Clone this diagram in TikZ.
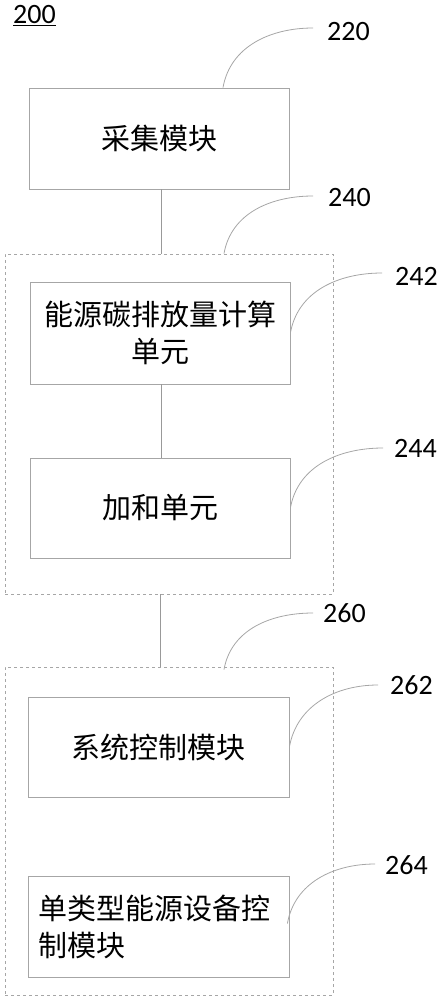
\documentclass[tikz,border=0pt]{standalone}
\usepackage{fontspec}
\setmainfont{Carlito}
\newfontfamily\cjk{Noto Sans CJK SC}
\begin{document}
\begin{tikzpicture}[x=1pt,y=1pt,
  box/.style={draw=gray!70, line width=0.8pt, minimum width=260pt, minimum height=101pt,
    inner sep=0pt, font=\cjk\fontsize{29}{37}\selectfont, align=center},
  group/.style={draw=gray!70, dashed, line width=0.8pt, minimum width=328pt, inner sep=0pt},
  link/.style={draw=gray!80, line width=0.8pt},
  leader/.style={draw=gray!70, line width=0.8pt},
  num/.style={font=\fontsize{28}{30}\selectfont, anchor=west, inner sep=0pt}]
\useasboundingbox (0,0) rectangle (440,-1000);

\node[num] (t200) at (13,-16) {\underline{200}};

\node[box] (b220) at (159,-138.5) {采集模块};
\node[group, minimum height=340pt] (g240) at (169,-424) {};
\node[box, minimum height=102pt] (b242) at (160,-333) {能源碳排放量计算\\单元};
\node[box, minimum height=100pt] (b244) at (160,-508) {加和单元};
\node[group, minimum height=328pt] (g260) at (169,-831) {};
\node[box, minimum width=261pt, minimum height=100pt] (b262) at (158.5,-747) {系统控制模块};
\node[box, minimum width=261pt, minimum height=101pt, align=left, text width=241pt, inner xsep=10pt] (b264) at (158.5,-926.5) {单类型能源设备控\\制模块};

\draw[link] ([xshift=2pt]b220.south) -- ([xshift=2pt]b220.south |- g240.north);
\draw[link] ([xshift=1pt]b242.south) -- ([xshift=1pt]b244.north);
\draw[link] (g240.south -| b242.south) -- (g260.north -| b242.south);

\node[num] (l220) at (327,-32) {220};
\node[num] (l240) at (328,-198) {240};
\node[num] (l242) at (395,-276) {242};
\node[num] (l244) at (394,-448) {244};
\node[num] (l260) at (323,-613) {260};
\node[num] (l262) at (390,-685) {262};
\node[num] (l264) at (385,-865) {264};

\draw[leader] ([xshift=64pt]b220.north) to[out=80,in=180] ([xshift=-14pt,yshift=4pt]l220.west);
\draw[leader] ([xshift=55pt]g240.north) to[out=80,in=180] ([xshift=-15pt,yshift=2pt]l240.west);
\draw[leader] (b242.east) to[out=80,in=180] ([xshift=-13pt,yshift=3pt]l242.west);
\draw[leader] (b244.east) to[out=80,in=180] ([xshift=-11pt]l244.west);
\draw[leader] ([xshift=55pt,yshift=-3pt]g260.north) to[out=80,in=180] ([xshift=-10pt]l260.west);
\draw[leader] (b262.east) to[out=80,in=180] ([xshift=-12pt]l262.west);
\draw[leader] ([xshift=-2pt,yshift=3pt]b264.east) to[out=80,in=180] ([xshift=-10pt,yshift=1pt]l264.west);
\end{tikzpicture}
\end{document}
